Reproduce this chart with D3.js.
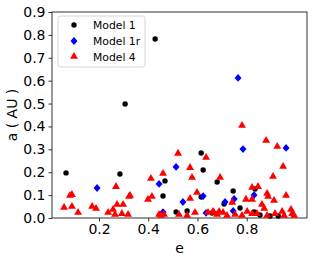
<!DOCTYPE html>
<html>
<head>
<meta charset="utf-8">
<script src="https://cdn.jsdelivr.net/npm/d3@7"></script>
<style>
  body { margin: 0; background: #fff; }
  svg { display: block; font-family: "DejaVu Sans", sans-serif; }
</style>
</head>
<body>
<div id="chart"></div>
<script>
// Model 1 (black dots): [e, a]
const model1 = [
  [0.066, 0.197], [0.285, 0.192], [0.306, 0.498], [0.428, 0.782],
  [0.468, 0.162], [0.460, 0.096], [0.513, 0.026], [0.558, 0.031],
  [0.615, 0.284], [0.623, 0.210], [0.615, 0.092], [0.659, 0.022],
  [0.680, 0.157], [0.708, 0.061], [0.745, 0.118], [0.773, 0.044],
  [0.834, 0.127], [0.830, 0.026], [0.854, 0.013], [0.895, 0.009],
  [0.928, 0.009]
]

// Model 1r (blue diamonds)
const model1r = [
  [0.192, 0.131], [0.444, 0.149], [0.460, 0.026], [0.513, 0.223],
  [0.541, 0.070], [0.623, 0.096], [0.635, 0.022], [0.712, 0.070],
  [0.749, 0.083], [0.745, 0.031], [0.765, 0.612], [0.785, 0.301],
  [0.830, 0.100], [0.960, 0.306]
]

// Model 4 (red triangles)
const model4 = [
  [0.058, 0.044], [0.082, 0.096], [0.090, 0.100], [0.090, 0.048],
  [0.115, 0.022], [0.172, 0.048], [0.188, 0.039], [0.269, 0.135],
  [0.237, 0.022], [0.257, 0.035], [0.265, 0.013], [0.273, 0.057],
  [0.298, 0.057], [0.293, 0.017], [0.322, 0.092], [0.326, 0.096],
  [0.318, 0.013], [0.399, 0.079], [0.415, 0.092], [0.411, 0.170],
  [0.444, 0.013], [0.452, 0.009], [0.464, 0.013], [0.460, 0.192],
  [0.521, 0.280], [0.525, 0.013], [0.570, 0.218], [0.578, 0.175],
  [0.635, 0.262], [0.598, 0.109], [0.570, 0.083], [0.558, 0.009],
  [0.590, 0.022], [0.643, 0.022], [0.667, 0.022], [0.680, 0.013],
  [0.692, 0.175], [0.688, 0.026], [0.704, 0.022], [0.663, 0.026],
  [0.781, 0.402], [0.879, 0.336], [0.924, 0.310], [0.948, 0.223],
  [0.907, 0.179], [0.822, 0.131], [0.846, 0.135], [0.883, 0.105],
  [0.887, 0.092], [0.797, 0.079], [0.822, 0.079], [0.960, 0.096],
  [0.911, 0.074], [0.862, 0.057], [0.871, 0.039], [0.741, 0.066],
  [0.720, 0.009], [0.753, 0.013], [0.781, 0.009], [0.802, 0.026],
  [0.822, 0.017], [0.842, 0.017], [0.883, 0.009], [0.915, 0.017],
  [0.944, 0.026], [0.952, 0.009], [0.980, 0.035], [0.993, 0.009],
  [0.985, 0.017]
]

const xTicks = [0.2, 0.4, 0.6, 0.8]
const yTicks = [0.0, 0.1, 0.2, 0.3, 0.4, 0.5, 0.6, 0.7, 0.8, 0.9]
const seriesNames = ['Model 1', 'Model 1r', 'Model 4']

const W = 316, H = 262
const margin = { top: 12, right: 9, bottom: 44, left: 52 }
const width = W - margin.left - margin.right
const height = H - margin.top - margin.bottom

const svg = d3.select('#chart').append('svg')
  .attr('width', W)
  .attr('height', H)

const g = svg.append('g')
  .attr('transform', 'translate(' + margin.left + ',' + margin.top + ')')

const x = d3.scaleLinear().domain([0.009, 1.045]).range([0, width])
const y = d3.scaleLinear().domain([0, 0.9]).range([height, 0])

// axes
const xAxis = g.append('g')
  .attr('transform', 'translate(0,' + height + ')')
  .call(d3.axisBottom(x).tickValues(xTicks).tickFormat(d3.format('.1f')).tickSizeOuter(0).tickSize(3.5).tickPadding(3))
const yAxis = g.append('g')
  .call(d3.axisLeft(y).tickValues(yTicks).tickFormat(d3.format('.1f')).tickSizeOuter(0).tickSize(3.5).tickPadding(3))

for (const ax of [xAxis, yAxis]) {
  ax.select('.domain').remove()
  ax.selectAll('text').attr('font-size', 14).attr('fill', '#000').attr('font-family', '"DejaVu Sans", sans-serif')
  ax.selectAll('line').attr('stroke', '#000').attr('stroke-width', 0.8)
}

// frame
g.append('rect')
  .attr('width', width)
  .attr('height', height)
  .attr('fill', 'none')
  .attr('stroke', '#000')
  .attr('stroke-width', 0.8)

const plot = g.append('g')

const triangle = d3.symbol().type(d3.symbolTriangle).size(27)
const diamond = 'M0,-3.9L3.5,0L0,3.9L-3.5,0Z'

plot.selectAll('.m1')
  .data(model1)
  .enter()
  .append('circle')
    .attr('cx', d => x(d[0]))
    .attr('cy', d => y(d[1]))
    .attr('r', 2.7)
    .attr('fill', '#000')

plot.selectAll('.m1r')
  .data(model1r)
  .enter()
  .append('path')
    .attr('d', diamond)
    .attr('transform', d => 'translate(' + x(d[0]) + ',' + y(d[1]) + ')')
    .attr('fill', '#0000ff')

plot.selectAll('.m4')
  .data(model4)
  .enter()
  .append('path')
    .attr('d', triangle)
    .attr('transform', d => 'translate(' + x(d[0]) + ',' + (y(d[1]) - 0.5) + ')')
    .attr('fill', '#ff0000')

// axis labels
svg.append('text')
  .attr('x', margin.left + width / 2)
  .attr('y', 253)
  .attr('text-anchor', 'middle')
  .attr('font-size', 14)
  .text('e')

svg.append('text')
  .attr('transform', 'translate(17,' + (margin.top + height / 2) + ') rotate(-90)')
  .attr('text-anchor', 'middle')
  .attr('font-size', 14)
  .text('a ( AU )')

// legend
const legend = svg.append('g').attr('transform', 'translate(58,16)')
legend.append('rect')
  .attr('width', 87)
  .attr('height', 51)
  .attr('rx', 2.5)
  .attr('fill', 'rgba(255,255,255,0.8)')
  .attr('stroke', '#cccccc')
  .attr('stroke-width', 0.8)

seriesNames.forEach((name, i) => {
  const row = legend.append('g').attr('transform', 'translate(16,' + (9 + i * 16) + ')')
  if (i === 0) row.append('circle').attr('r', 2.7).attr('fill', '#000')
  if (i === 1) row.append('path').attr('d', diamond).attr('fill', '#0000ff')
  if (i === 2) row.append('path').attr('d', triangle).attr('transform', 'translate(0,-0.5)').attr('fill', '#ff0000')
  row.append('text')
    .attr('x', 19)
    .attr('y', 4)
    .attr('font-size', 10.8)
    .text(name)
})
</script>
</body>
</html>
